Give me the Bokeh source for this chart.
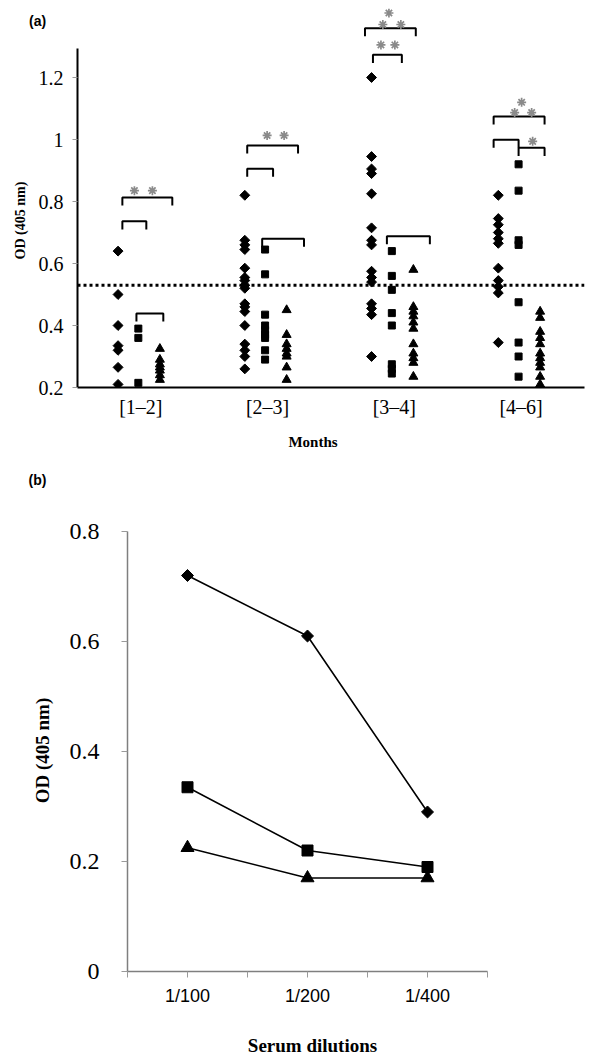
import numpy as np
from bokeh.plotting import figure
from bokeh.models import Range1d, FixedTicker, NumeralTickFormatter, Span, Label
from bokeh.embed import file_html
from bokeh.resources import INLINE

# ---------------- data, panel (a) ----------------
months = ["[1–2]", "[2–3]", "[3–4]", "[4–6]"]
cutoff = 0.53

g1_diamond = [0.64, 0.50, 0.40, 0.335, 0.32, 0.265, 0.21]
g1_square = [0.39, 0.36, 0.215]
g1_triangle = [0.325, 0.29, 0.275, 0.265, 0.255, 0.24, 0.225]

g2_diamond = [0.82, 0.675, 0.66, 0.645, 0.585, 0.555, 0.545, 0.53, 0.52,
              0.47, 0.46, 0.445, 0.40, 0.34, 0.32, 0.30, 0.26]
g2_square = [0.645, 0.565, 0.435, 0.40, 0.385, 0.37, 0.36, 0.32, 0.29]
g2_triangle = [0.45, 0.37, 0.34, 0.325, 0.31, 0.30, 0.265, 0.225]

g3_diamond = [1.2, 0.945, 0.905, 0.89, 0.825, 0.715, 0.675, 0.66, 0.575,
              0.555, 0.54, 0.47, 0.455, 0.435, 0.30]
g3_square = [0.64, 0.56, 0.515, 0.44, 0.40, 0.275, 0.26, 0.245]
g3_triangle = [0.58, 0.46, 0.445, 0.43, 0.41, 0.39, 0.34, 0.31, 0.295, 0.28, 0.235]

g4_diamond = [0.82, 0.745, 0.725, 0.70, 0.68, 0.665, 0.585, 0.545, 0.525, 0.505, 0.345]
g4_square = [0.92, 0.835, 0.675, 0.66, 0.475, 0.345, 0.30, 0.235]
g4_triangle = [0.445, 0.425, 0.38, 0.36, 0.34, 0.31, 0.295, 0.28, 0.265, 0.235, 0.21]

# significance brackets (x in group units, y in OD)
bracket_x0 = [0.854, 0.854, 0.965, 1.839, 1.839, 1.957, 2.768, 2.831, 2.941, 3.783, 3.783, 3.980]
bracket_x1 = [1.248, 1.043, 1.177, 2.240, 2.043, 2.287, 3.169, 3.059, 3.280, 4.185, 3.980, 4.185]
bracket_y = [0.813, 0.736, 0.439, 0.981, 0.906, 0.680, 1.359, 1.273, 0.688, 1.074, 0.999, 0.973]
star_x = [0.949, 1.091, 1.996, 2.130, 2.957, 2.909, 3.051, 2.894, 3.004, 4.004, 3.949, 4.083, 4.091]
star_y = [0.835, 0.835, 1.013, 1.013, 1.408, 1.371, 1.371, 1.305, 1.305, 1.120, 1.087, 1.087, 0.994]

# ---------------- data, panel (b) ----------------
dilutions = ["1/100", "1/200", "1/400"]
b_diamond = [0.72, 0.61, 0.29]
b_square = [0.335, 0.22, 0.19]
b_triangle = [0.225, 0.17, 0.17]

SERIF = "Liberation Serif"
SANS = "Liberation Sans"

# ---------------- panel (a) ----------------
p1 = figure(title=None, frame_width=507, frame_height=379,
            min_border_left=77, min_border_right=8, min_border_top=8, min_border_bottom=73,
            x_range=Range1d(0.5, 4.5), y_range=Range1d(0.2, 0.2 + 379 / 310),
            output_backend="svg", toolbar_location=None)
p1.outline_line_color = None
p1.xgrid.visible = False
p1.ygrid.visible = False

ya = p1.yaxis[0]
ya.ticker = FixedTicker(ticks=[0.2, 0.4, 0.6, 0.8, 1.0, 1.2])
ya.formatter = NumeralTickFormatter(format="0.[0]")
ya.bounds = (0.2, 1.294)
ya.axis_line_color = "black"
ya.axis_line_width = 2
ya.major_tick_line_color = "#9a9a9a"
ya.major_tick_out = 5
ya.major_tick_in = 0
ya.minor_tick_line_color = None
ya.major_label_text_font = SERIF
ya.major_label_text_font_size = "20px"
ya.major_label_text_color = "black"
ya.major_label_standoff = 9

xa = p1.xaxis[0]
xa.ticker = FixedTicker(ticks=[1, 2, 3, 4])
xa.major_label_overrides = {i + 1: m for i, m in enumerate(months)}
xa.axis_line_color = "black"
xa.axis_line_width = 2
xa.major_tick_line_color = None
xa.major_tick_out = 0
xa.minor_tick_line_color = None
xa.major_label_text_font = SERIF
xa.major_label_text_font_size = "20px"
xa.major_label_text_color = "black"
xa.major_label_standoff = 8

p1.add_layout(Span(location=cutoff, dimension="width", line_color="black",
                   line_width=3, line_dash="3 3"))

off_d, off_s, off_t = -0.18, -0.02, 0.15
groups = [(g1_diamond, g1_square, g1_triangle), (g2_diamond, g2_square, g2_triangle),
          (g3_diamond, g3_square, g3_triangle), (g4_diamond, g4_square, g4_triangle)]
for gi, (gd, gs, gt) in enumerate(groups):
    c = gi + 1
    p1.scatter([c + off_d] * len(gd), gd, marker="square", angle=np.pi / 4, size=7,
               fill_color="black", line_color="black")
    p1.scatter([c + off_s] * len(gs), gs, marker="square", size=7,
               fill_color="black", line_color="black")
    p1.scatter([c + off_t] * len(gt), gt, marker="triangle", size=9,
               fill_color="black", line_color="black")

tick = 0.026
bxs = [[a, a, b, b] for a, b in zip(bracket_x0, bracket_x1)]
bys = [[y - tick, y, y, y - tick] for y in bracket_y]
p1.multi_line(bxs, bys, line_color="black", line_width=2)
p1.scatter(star_x, star_y, marker="asterisk", size=9, line_color="#8a8a8a", line_width=1.7)


def a_pt(px, py):
    return 0.5 + (px - 77) / 127, 0.2 + (387 - py) / 310


x, y = a_pt(37, 20)
p1.add_layout(Label(x=x, y=y, text="(a)", text_font=SANS, text_font_style="bold",
                    text_font_size="14px", text_color="black",
                    text_align="center", text_baseline="middle"), "below")
x, y = a_pt(20, 220)
p1.add_layout(Label(x=x, y=y, text="OD (405 nm)", text_font=SERIF, text_font_style="bold",
                    text_font_size="14px", text_color="black",
                    text_align="center", text_baseline="middle", angle=np.pi / 2), "left")
x, y = a_pt(313, 441)
p1.add_layout(Label(x=x, y=y, text="Months", text_font=SERIF, text_font_style="bold",
                    text_font_size="15px", text_color="black",
                    text_align="center", text_baseline="middle"), "below")

# ---------------- panel (b) ----------------
p2 = figure(title=None, frame_width=360, frame_height=501,
            min_border_left=127, min_border_right=105, min_border_top=10, min_border_bottom=85,
            x_range=Range1d(0.5, 3.5), y_range=Range1d(0, 501 / 550),
            output_backend="svg", toolbar_location=None)
p2.outline_line_color = None
p2.xgrid.visible = False
p2.ygrid.visible = False

yb = p2.yaxis[0]
yb.ticker = FixedTicker(ticks=[0, 0.2, 0.4, 0.6, 0.8])
yb.formatter = NumeralTickFormatter(format="0.[0]")
yb.bounds = (0, 0.8)
yb.axis_line_color = "#7f7f7f"
yb.axis_line_width = 1.5
yb.major_tick_line_color = "#9a9a9a"
yb.major_tick_out = 6
yb.major_tick_in = 0
yb.minor_tick_line_color = None
yb.major_label_text_font = SERIF
yb.major_label_text_font_size = "24px"
yb.major_label_text_color = "black"
yb.major_label_standoff = 22

xb = p2.xaxis[0]
xb.ticker = FixedTicker(ticks=[1, 2, 3], minor_ticks=[0.5, 1.5, 2.5, 3.5])
xb.major_label_overrides = {i + 1: d for i, d in enumerate(dilutions)}
xb.axis_line_color = "#7f7f7f"
xb.axis_line_width = 1.5
xb.major_tick_line_color = "#9a9a9a"
xb.minor_tick_line_color = "#9a9a9a"
xb.major_tick_out = 6
xb.major_tick_in = 0
xb.minor_tick_out = 6
xb.minor_tick_in = 0
xb.major_label_text_font = SANS
xb.major_label_text_font_size = "18px"
xb.major_label_text_color = "black"
xb.major_label_standoff = 8

xs = [1, 2, 3]
for vals, mk, sz, ang in [(b_diamond, "square", 8.5, np.pi / 4),
                          (b_square, "square", 11, 0),
                          (b_triangle, "triangle", 13, 0)]:
    p2.line(xs, vals, line_color="black", line_width=1.6)
    p2.scatter(xs, vals, marker=mk, size=sz, angle=ang, fill_color="black", line_color="black")


def b_pt(px, py):
    return 0.5 + (px - 127) / 120, (971 - py) / 550


x, y = b_pt(37, 479)
p2.add_layout(Label(x=x, y=y, text="(b)", text_font=SANS, text_font_style="bold",
                    text_font_size="14px", text_color="black",
                    text_align="center", text_baseline="middle"), "right")
x, y = b_pt(42, 750)
p2.add_layout(Label(x=x, y=y, text="OD (405 nm)", text_font=SERIF, text_font_style="bold",
                    text_font_size="19px", text_color="black",
                    text_align="center", text_baseline="middle", angle=np.pi / 2), "left")
x, y = b_pt(312, 1045)
p2.add_layout(Label(x=x, y=y, text="Serum dilutions", text_font=SERIF, text_font_style="bold",
                    text_font_size="19px", text_color="black",
                    text_align="center", text_baseline="middle"), "below")

open("out.html", "w").write(file_html([p1, p2], INLINE))
